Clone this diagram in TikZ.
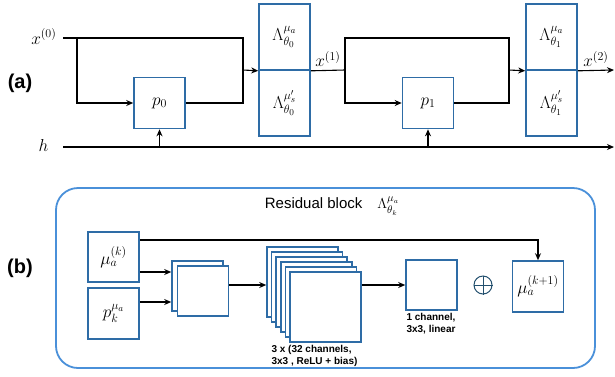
\documentclass[tikz,border=0pt]{standalone}
\usepackage{fontspec}
\usepackage{amsmath}
\usetikzlibrary{arrows.meta}
\newfontfamily\arialfont{Liberation Sans}
\definecolor{BoxBlue}{RGB}{46,108,166}
\definecolor{FrameBlue}{RGB}{74,144,217}
\definecolor{PlusTeal}{RGB}{35,80,110}

\begin{document}
\begin{tikzpicture}[x=1pt,y=-1pt,>={Stealth[length=7pt,width=6pt]},line width=1.1pt,
  blk/.style={draw=BoxBlue,line width=1.6pt,fill=white,minimum width=51pt,minimum height=50pt,inner sep=1pt,font=\fontsize{17.5}{20}\selectfont},
  lbl/.style={font=\fontsize{17.5}{20}\selectfont,inner sep=1pt},
  tag/.style={font=\arialfont\bfseries\fontsize{20}{24}\selectfont},
  note/.style={font=\arialfont\bfseries\fontsize{10}{12}\selectfont,align=left,inner sep=1pt}]
\useasboundingbox (0,0) rectangle (615,376);
% (a) unrolled network
\node[tag] (ta) at (20,83) {(a)};
\coordinate (in0) at (63,38);
\node[lbl,anchor=base east] (x0) at (58,44) {$x^{(0)}$};
\coordinate (hin) at (63,147);
\coordinate (hout) at (614,147);
\node[lbl,anchor=base east] (h) at (50,151) {$h$};
\coordinate (s0) at (77,38);
\coordinate (m0) at (243,70);
\node[blk,minimum height=51pt] (p0) at (159.5,103) {$p_0$};
\node[blk,minimum height=66pt] (L0a) at (284.5,37) {$\Lambda^{\mu_a}_{\theta_0}$};
\node[blk,minimum height=66pt] (L0b) at (284.5,103) {$\Lambda^{\mu'_s}_{\theta_0}$};
\coordinate (s1) at (345,70);
\coordinate (r1) at (345,38);
\coordinate (m1) at (509,70);
\node[blk,minimum height=51pt] (p1) at (428,103) {$p_1$};
\node[blk,minimum height=66pt] (L1a) at (551.5,37) {$\Lambda^{\mu_a}_{\theta_1}$};
\node[blk,minimum height=66pt] (L1b) at (551.5,103) {$\Lambda^{\mu'_s}_{\theta_1}$};
\coordinate (out2) at (614,70);
\draw (in0) -- (s0) -| (m0);
\draw[->] (s0) |- (p0);
\draw (p0) -| (m0);
\draw[->] (m0) -- (L0a.south west);
\draw (L0a.south east) -- node[lbl,above=2pt]{$x^{(1)}$} (s1);
\draw (s1) -- (r1) -| (m1);
\draw[->] (s1) |- (p1);
\draw (p1) -| (m1);
\draw[->] (m1) -- (L1a.south west);
\draw[->] (L1a.south east) -- node[lbl,above=2pt]{$x^{(2)}$} (out2);
\draw[->] (hin) -- (hout);
\draw[->] (p0.south |- hin) -- (p0);
\draw[->] (p1.south |- hin) -- (p1);
% (b) residual block
\node[tag] (tb) at (20,268) {(b)};
\node[draw=FrameBlue,line width=1.8pt,rounded corners=22pt,minimum width=539pt,minimum height=180pt] (frame) at (325.5,278) {};
\node[font=\arialfont\fontsize{15}{18}\selectfont] (title) at (332,206) {Residual block\quad$\Lambda^{\mu_a}_{\theta_k}$};
\node[blk] (mk) at (113.5,257) {$\mu_a^{(k)}$};
\node[blk,minimum height=51pt] (pk) at (113.5,313.5) {$p_k^{\mu_a}$};
\node[blk] (c1b) at (197.5,286) {};
\node[blk] (c1f) at (203,291) {};
\foreach \i in {0,...,5}
  \node[blk,minimum width=71pt,minimum height=70pt] (st\i) at ({302.5+4.6*\i},{282+5*\i}) {};
\node[blk] (ch1) at (431.5,285) {};
\node[circle,draw=PlusTeal,line width=1pt,minimum size=18pt,inner sep=0pt] (plus) at (483,285) {};
\draw[PlusTeal,line width=1pt] (plus.north) -- (plus.south) (plus.west) -- (plus.east);
\node[blk,minimum height=51pt] (mk1) at (538,286.5) {$\mu_a^{(k+1)}$};
\node[note,anchor=north west] (stl) at (270,344) {3 x (32 channels,\\3x3 , ReLU + bias)};
\node[note,anchor=north west] (chl) at (405,312) {1 channel,\\3x3, linear};
\draw[->] ([yshift=-15pt]mk.east) -- ([yshift=14pt]c1b.west);
\draw[->] ([yshift=11.5pt]pk.east) -- ([yshift=-16pt]c1b.west);
\draw[->] (c1f.east |- ch1) -- (st0.west |- ch1);
\draw[->] (st5.east |- ch1) -- (ch1);
\draw[->] ([yshift=17pt]mk.east) -| (mk1);
\end{tikzpicture}
\end{document}
